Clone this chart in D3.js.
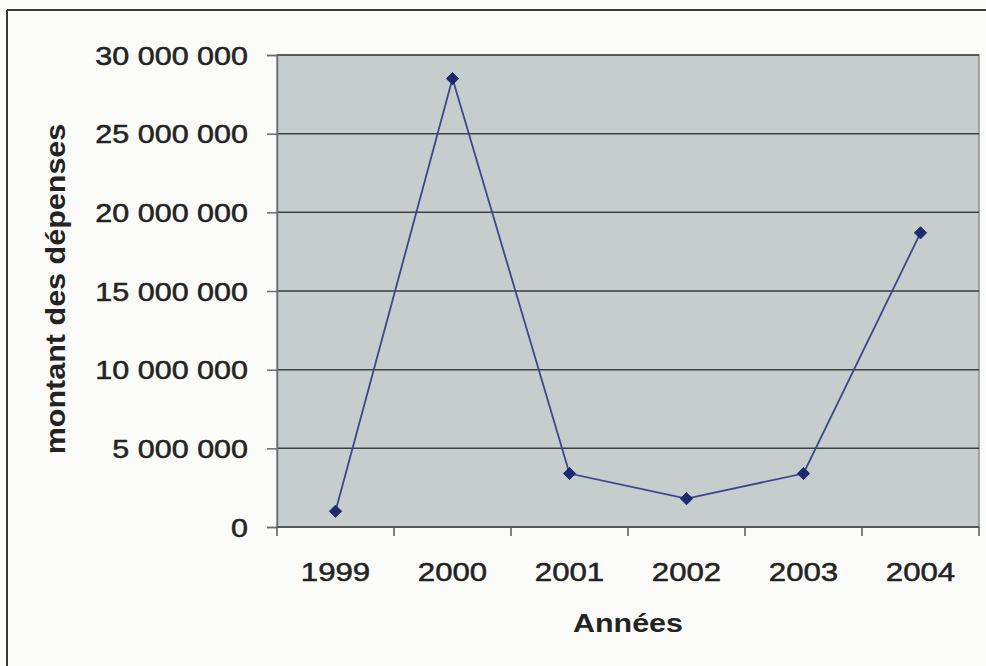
<!DOCTYPE html>
<html>
<head>
<meta charset="utf-8">
<script src="https://cdn.jsdelivr.net/npm/d3@7"></script>
<style>
  html, body { margin: 0; padding: 0; background: #fbfbfa; }
  svg { display: block; }
  text { font-family: "Liberation Sans", Arial, sans-serif; fill: #232323; }
</style>
</head>
<body>
<svg id="chart" width="986" height="666"></svg>
<script>
const years = ["1999", "2000", "2001", "2002", "2003", "2004"];
const depenses = [1000000, 28500000, 3400000, 1800000, 3400000, 18700000];
const yTicks = [0, 5000000, 10000000, 15000000, 20000000, 25000000, 30000000];
const xTitle = "Années";
const yTitle = "montant des dépenses";

const svg = d3.select("#chart");
const W = 986, H = 666;
const m = { left: 277, right: 7, top: 55, bottom: 139 };
const pw = W - m.left - m.right, ph = H - m.top - m.bottom;

// outer frame (top and left visible)
svg.append("line").attr("x1", 7).attr("x2", W).attr("y1", 10).attr("y2", 10)
  .attr("stroke", "#3a3a3a").attr("stroke-width", 2);
svg.append("line").attr("x1", 7).attr("x2", 7).attr("y1", 10).attr("y2", H)
  .attr("stroke", "#3a3a3a").attr("stroke-width", 2);

const x = d3.scaleBand().domain(years).range([m.left, m.left + pw]);
const y = d3.scaleLinear().domain([0, 30000000]).range([m.top + ph, m.top]);

// plot area
svg.append("rect").attr("x", m.left).attr("y", m.top).attr("width", pw).attr("height", ph)
  .attr("fill", "#c6cdcd").attr("stroke", "#8a8f90").attr("stroke-width", 1.5);

// gridlines
svg.append("g").selectAll("line").data(yTicks.filter(d => d > 0)).join("line")
  .attr("x1", m.left).attr("x2", m.left + pw)
  .attr("y1", d => y(d)).attr("y2", d => y(d))
  .attr("stroke", "#3d3f40").attr("stroke-width", 1.5);

const fmt = v => d3.format(",")(v).replace(/,/g, " ");

// y axis
const yAxis = svg.append("g").attr("transform", `translate(${m.left},0)`)
  .call(d3.axisLeft(y).tickValues(yTicks).tickFormat(fmt).tickSize(10).tickPadding(19));
yAxis.select(".domain").attr("stroke", "#6b6e70").attr("stroke-width", 1.5);
yAxis.selectAll(".tick line").attr("stroke", "#6b6e70").attr("stroke-width", 1.5);
yAxis.selectAll(".tick text").attr("font-size", 25).attr("fill", "#232323")
  .attr("stroke", "#232323").attr("stroke-width", 0.5)
  .style("font-family", '"Liberation Sans", Arial, sans-serif').attr("dy", "0.36em");

// x axis: ticks at band boundaries
const xAxisG = svg.append("g").attr("transform", `translate(0,${m.top + ph})`);
xAxisG.append("line").attr("x1", m.left).attr("x2", m.left + pw).attr("y1", 0).attr("y2", 0)
  .attr("stroke", "#55585a").attr("stroke-width", 2);
const bounds = years.map(d => x(d)).concat([m.left + pw]);
xAxisG.selectAll("line.tk").data(bounds).join("line").attr("class", "tk")
  .attr("x1", d => d).attr("x2", d => d).attr("y1", 0).attr("y2", 9)
  .attr("stroke", "#55585a").attr("stroke-width", 1.5);
xAxisG.selectAll("text.lbl").data(years).join("text").attr("class", "lbl")
  .attr("x", d => x(d) + x.bandwidth() / 2).attr("y", 54)
  .attr("stroke", "#232323").attr("stroke-width", 0.5)
  .attr("text-anchor", "middle").attr("font-size", 26).text(d => d);

// axis titles
svg.append("text").attr("class", "xt").attr("x", m.left + pw / 2).attr("y", 632)
  .attr("text-anchor", "middle").attr("font-size", 26).attr("font-weight", "bold").text(xTitle);
svg.append("text").attr("class", "yt").attr("transform", "translate(65,289) rotate(-90)")
  .attr("text-anchor", "middle").attr("font-size", 27).attr("font-weight", "bold").text(yTitle);

// horizontal stretch to match the scanned text proportions
function stretch(sel, k) {
  sel.each(function () {
    const l = this.getComputedTextLength();
    d3.select(this).attr("textLength", l * k).attr("lengthAdjust", "spacingAndGlyphs");
  });
}
stretch(yAxis.selectAll(".tick text"), 1.22);
stretch(xAxisG.selectAll("text.lbl"), 1.2);
stretch(svg.selectAll("text.xt"), 1.17);
stretch(svg.selectAll("text.yt"), 1.13);

// line
const cx = d => x(d) + x.bandwidth() / 2;
const line = d3.line().x((d, i) => cx(years[i])).y(d => y(d));
svg.append("path").datum(depenses).attr("d", line)
  .attr("fill", "none").attr("stroke", "#3c4690").attr("stroke-width", 1.8);

// diamond markers
svg.append("g").selectAll("path").data(depenses).join("path")
  .attr("transform", (d, i) => `translate(${cx(years[i])},${y(d)})`)
  .attr("d", d3.symbol().type(d3.symbolDiamond2).size(95))
  .attr("fill", "#1f2a6e").attr("stroke", "#1f2a6e").attr("stroke-width", 1);
</script>
</body>
</html>
